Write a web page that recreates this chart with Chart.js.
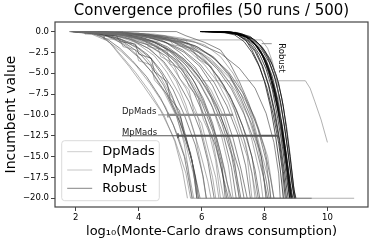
<!DOCTYPE html>
<html lang="en">
<head>
<meta charset="UTF-8" />
<title>Convergence profiles</title>
<script src="https://cdn.jsdelivr.net/npm/chart.js"></script>
<style>
  html, body { margin: 0; padding: 0; background: #fff; }
</style>
</head>
<body>
<canvas id="chart" width="374" height="244"></canvas>
<script>
// axis ticks
const xTicks = [2, 4, 6, 8, 10];
const yTicks = [0, -2.5, -5, -7.5, -10, -12.5, -15, -17.5, -20];

// each run: [log10 draws, incumbent value]
const dpmadsRuns = [
  [[1.8,0],[2.4,0],[2.8,-0.5],[3.1,-1.4],[3.35,-2.6],[3.7,-4.2],[4.15,-6.5],[4.7,-9.5],[5.15,-13],[5.5,-17],[5.65,-20],[10.85,-20]],
  [[2.0,0],[2.8,-0.2],[3.4,-0.8],[3.9,-1.9],[4.3,-3.4],[4.7,-5.5],[5.1,-8.2],[5.4,-11.5],[5.7,-15.5],[5.85,-20],[7.2,-20]],
  [[2.1,0],[3.1,-0.3],[3.8,-1.0],[4.4,-2.2],[4.8,-3.8],[5.2,-6.0],[5.5,-8.8],[5.8,-12.5],[6.0,-16.5],[6.15,-20]],
  [[1.9,0],[3.0,-0.1],[3.7,-0.6],[4.4,-1.5],[5.0,-3.0],[5.5,-5.2],[5.9,-8.0],[6.2,-11.5],[6.45,-15.5],[6.6,-20],[8.2,-20]],
  [[2.2,0],[3.5,-0.4],[4.6,-1.2],[5.4,-3.3],[6.0,-5.9],[9.3,-5.9],[9.45,-6.8],[9.6,-8.4],[9.8,-10.6],[10.0,-13.3]],
  [[2.3,0],[3.6,-0.5],[4.5,-1.3],[5.2,-2.6],[5.8,-4.5],[6.3,-7.0],[6.7,-10.2],[7.0,-14],[7.2,-20]],
  [[2.0,0],[3.3,-0.2],[4.2,-0.9],[4.9,-2.0],[5.4,-3.6],[5.9,-5.8],[6.3,-8.6],[6.6,-12],[6.85,-16],[7.0,-20],[9.0,-20]],
  [[2.4,0],[4.0,-0.4],[5.0,-1.0],[5.8,-2.1],[6.4,-3.8],[6.9,-6.2],[7.3,-9.2],[7.6,-13],[7.85,-17],[7.95,-20]],
  [[1.85,0],[2.5,-0.3],[3.0,-1.1],[3.45,-2.4],[3.9,-4.0],[4.35,-6.2],[4.85,-9.0],[5.25,-12.5],[5.55,-16],[5.7,-20]],
  [[2.1,0],[3.4,-0.4],[4.1,-1.2],[4.7,-2.6],[5.1,-4.4],[5.5,-6.8],[5.85,-9.8],[6.1,-13.5],[6.35,-17.5],[6.45,-20]],
  [[2.5,0],[4.3,-0.6],[5.3,-1.4],[6.0,-2.7],[6.6,-4.6],[7.1,-7.2],[7.5,-10.4],[7.8,-14],[8.0,-18],[8.05,-20]],
  [[2.0,0],[3.7,-0.3],[4.6,-0.9],[5.5,-1.1],[5.9,-2.5],[6.3,-4.2],[6.7,-6.6],[7.05,-9.5],[7.35,-13],[7.6,-17],[7.7,-20]],
  [[2.2,0],[3.0,-0.6],[3.6,-1.6],[4.0,-3.0],[4.4,-4.8],[4.8,-7.2],[5.2,-10.2],[5.5,-13.6],[5.75,-17.2],[5.9,-20]],
  [[2.3,0],[4.0,-0.2],[4.8,-0.7],[5.6,-1.6],[6.3,-3.3],[6.9,-5.6],[7.4,-8.3],[7.8,-11.5],[8.1,-15],[8.3,-20]],
  [[1.95,0],[3.2,-0.4],[3.9,-1.3],[4.5,-2.9],[4.9,-4.9],[5.3,-7.6],[5.65,-10.8],[5.95,-14.4],[6.2,-18],[6.3,-20]],
  [[2.6,0],[4.6,-0.7],[5.6,-1.0],[7.9,-1.0],[8.1,-2.0],[8.25,-3.6],[8.4,-6],[8.5,-10],[8.55,-14],[8.6,-20]],
  [[1.9,0],[2.3,0],[2.3,-0.3],[2.9,-0.3],[2.9,-0.9],[3.4,-0.9],[3.5,-1.8],[3.9,-2.2],[4.0,-3.5],[4.4,-4.0],[4.5,-5.8],[4.9,-7.5],[5.2,-10],[5.45,-13.5],[5.6,-17],[5.75,-20]],
  [[2.0,0],[3.5,0],[3.6,-0.6],[4.2,-0.8],[4.3,-1.8],[4.9,-2.3],[5.0,-3.9],[5.4,-4.5],[5.6,-6.6],[5.9,-8.0],[6.05,-10.5],[6.35,-13],[6.5,-16],[6.7,-20]],
  [[2.2,0],[3.8,-0.2],[4.9,-0.6],[5.1,-1.6],[5.7,-2.0],[5.9,-3.3],[6.3,-4.2],[6.5,-6.0],[6.9,-7.6],[7.1,-10],[7.4,-13.5],[7.6,-17],[7.75,-20]],
  [[2.0,0],[2.9,-0.2],[3.6,-0.5],[4.0,-1.3],[4.6,-1.8],[4.7,-3.0],[5.1,-3.8],[5.3,-5.6],[5.6,-7.0],[5.75,-9.5],[6.0,-11],[6.2,-14],[6.45,-17.5],[6.55,-20]],
  [[2.4,0],[4.5,-0.3],[5.4,-0.8],[6.1,-1.6],[6.6,-3.0],[7.0,-5.0],[7.35,-7.6],[7.65,-10.8],[7.9,-14.5],[8.15,-18],[8.2,-20]],
  [[1.85,0],[2.5,-0.1],[2.9,-0.7],[3.2,-1.8],[3.5,-3.1],[3.9,-4.9],[4.35,-7.2],[4.8,-10.0],[5.15,-13.2],[5.4,-16.8],[5.55,-20]],
  [[2.1,0],[3.2,-0.1],[3.9,-0.7],[4.6,-1.7],[5.1,-3.1],[5.5,-4.9],[5.85,-7.1],[6.2,-9.8],[6.5,-13],[6.75,-16.8],[6.9,-20],[8.9,-20]],
  [[2.3,0],[4.2,-0.4],[5.1,-1.2],[5.65,-2.5],[6.1,-4.0],[6.5,-6.0],[6.85,-8.5],[7.15,-11.6],[7.45,-15],[7.6,-20]]
];

const mpmadsRuns = [
  [[1.9,0],[2.7,-0.2],[3.2,-0.8],[3.6,-1.8],[4.0,-3.1],[4.45,-5.0],[4.9,-7.6],[5.3,-10.8],[5.65,-14.6],[5.85,-18.5],[5.9,-20]],
  [[2.0,0],[3.0,-0.3],[3.7,-0.9],[4.3,-2.0],[4.8,-3.6],[5.2,-5.7],[5.6,-8.4],[5.95,-11.8],[6.2,-15.6],[6.4,-20]],
  [[2.1,0],[3.3,-0.3],[4.1,-1.0],[4.7,-2.1],[5.2,-3.7],[5.6,-5.8],[6.0,-8.5],[6.35,-11.9],[6.6,-15.8],[6.8,-20]],
  [[2.2,0],[3.6,-0.4],[4.4,-1.1],[5.0,-2.3],[5.5,-4.0],[5.95,-6.3],[6.35,-9.1],[6.7,-12.5],[6.95,-16.3],[7.1,-20]],
  [[2.0,0],[3.8,-0.3],[4.7,-1.0],[5.4,-2.2],[5.95,-3.9],[6.4,-6.1],[6.8,-8.9],[7.15,-12.3],[7.4,-16.1],[7.55,-20]],
  [[2.3,0],[4.1,-0.4],[5.0,-1.1],[5.7,-2.4],[6.25,-4.1],[6.7,-6.4],[7.1,-9.3],[7.45,-12.8],[7.7,-16.6],[7.85,-20]],
  [[2.1,0],[3.1,-0.5],[3.8,-1.4],[4.3,-2.8],[4.7,-4.6],[5.1,-7.0],[5.45,-10.0],[5.8,-13.6],[6.05,-17.4],[6.15,-20]],
  [[2.4,0],[4.4,-0.5],[5.3,-1.3],[6.0,-2.7],[6.5,-4.5],[6.95,-6.9],[7.35,-9.9],[7.7,-13.4],[7.95,-17.2],[8.1,-20]],
  [[1.9,0],[2.9,-0.4],[3.5,-1.2],[4.0,-2.5],[4.4,-4.2],[4.8,-6.5],[5.15,-9.3],[5.5,-12.7],[5.75,-16.4],[5.95,-20]],
  [[2.2,0],[3.5,-0.6],[4.3,-1.6],[4.9,-3.0],[5.35,-4.9],[5.75,-7.3],[6.1,-10.3],[6.45,-13.8],[6.7,-17.6],[6.85,-20]],
  [[2.5,0],[4.6,-0.6],[5.6,-1.5],[6.3,-2.9],[6.85,-4.8],[7.3,-7.3],[7.7,-10.4],[8.0,-14],[8.2,-17.8],[8.3,-20]],
  [[2.0,0],[3.4,-0.2],[4.2,-0.8],[4.9,-1.8],[5.45,-3.3],[5.9,-5.3],[6.3,-7.9],[6.65,-11.1],[6.95,-14.8],[7.2,-20]],
  [[2.3,0],[3.9,-0.3],[4.9,-0.9],[5.6,-2.0],[6.1,-3.5],[6.55,-5.5],[6.95,-8.1],[7.3,-11.3],[7.6,-15],[7.8,-20],[9.5,-20]],
  [[1.8,0],[2.5,-0.2],[3.0,-0.9],[3.4,-2.0],[3.8,-3.5],[4.25,-5.4],[4.7,-8.0],[5.1,-11.2],[5.45,-15],[5.7,-20]],
  [[2.1,0],[3.7,-0.5],[4.5,-1.3],[5.15,-2.6],[5.7,-4.4],[6.15,-6.7],[6.55,-9.6],[6.9,-13],[7.2,-16.8],[7.35,-20]],
  [[2.6,0],[4.8,-0.5],[5.8,-1.3],[6.6,-2.6],[7.2,-4.4],[7.7,-6.8],[8.05,-9.8],[8.3,-13.3],[8.45,-17],[8.5,-20]],
  [[2.4,0],[5.2,0],[5.5,-0.5],[6.1,-1.3],[6.6,-2.2],[6.9,-3.8],[7.2,-6.0],[7.5,-8.6],[7.8,-11.8],[8.05,-15.5],[8.2,-20]],
  [[2.0,0],[2.6,0],[2.7,-0.4],[3.3,-0.5],[3.4,-1.2],[3.9,-1.5],[4.0,-2.7],[4.4,-3.2],[4.5,-4.8],[4.9,-6.0],[5.0,-8.0],[5.3,-9.5],[5.45,-12.5],[5.7,-15.5],[5.85,-20]],
  [[2.1,0],[3.6,-0.1],[4.3,-0.6],[4.9,-1.4],[5.35,-2.6],[5.8,-4.3],[6.15,-6.4],[6.5,-9.0],[6.8,-12.2],[7.05,-16],[7.25,-20]],
  [[2.2,0],[3.3,-0.2],[4.0,-0.6],[4.6,-1.4],[5.05,-2.6],[5.45,-4.2],[5.8,-6.2],[6.1,-8.8],[6.4,-12],[6.65,-16],[6.75,-20]],
  [[2.3,0],[4.3,-0.3],[5.2,-0.9],[5.9,-1.9],[6.45,-3.4],[6.9,-5.4],[7.25,-8.0],[7.6,-11.2],[7.9,-15],[8.05,-20]],
  [[1.9,0],[2.8,-0.3],[3.4,-0.9],[3.95,-1.9],[4.4,-3.3],[4.75,-5.2],[5.05,-7.6],[5.35,-10.5],[5.6,-14],[5.8,-17.5],[5.85,-20]],
  [[2.0,0],[3.9,-0.4],[4.8,-1.2],[5.45,-2.5],[5.95,-4.2],[6.35,-6.5],[6.7,-9.4],[7.0,-12.8],[7.25,-16.5],[7.45,-20]],
  [[2.4,0],[3.5,-0.3],[4.3,-1.2],[4.8,-2.3],[5.3,-3.7],[5.7,-5.6],[6.05,-8.0],[6.35,-11],[6.6,-14.5],[6.8,-18],[6.95,-20]],
  [[2.2,0],[4.0,-0.2],[5.0,-0.8],[5.8,-1.7],[6.4,-3.1],[6.85,-5.0],[7.25,-7.5],[7.6,-10.6],[7.85,-14.2],[8.05,-17.8],[8.15,-20]]
];

const robustRuns = [
  [[5.95,0],[6.7,0],[7.1,-0.3],[7.4,-1.0],[7.6,-2.2],[7.8,-3.8],[8.0,-6.0],[8.2,-9.2],[8.35,-12.5],[8.5,-16.5],[8.6,-20]],
  [[5.95,0],[6.8,0],[7.2,-0.4],[7.5,-1.2],[7.75,-2.5],[7.95,-4.2],[8.15,-6.6],[8.35,-10],[8.5,-13.4],[8.65,-17.2],[8.75,-20]],
  [[6.1,0],[6.9,-0.1],[7.3,-0.5],[7.6,-1.4],[7.85,-2.8],[8.05,-4.5],[8.25,-7.0],[8.42,-10.4],[8.57,-13.8],[8.7,-17.5],[8.8,-20]],
  [[6.2,0],[7.0,-0.1],[7.4,-0.6],[7.7,-1.6],[7.95,-3.0],[8.15,-4.9],[8.32,-7.5],[8.5,-10.9],[8.64,-14.2],[8.76,-17.8],[8.85,-20]],
  [[6.0,0],[6.85,0],[7.25,-0.3],[7.55,-0.9],[7.8,-1.9],[8.0,-3.5],[8.2,-5.8],[8.4,-9],[8.55,-12.5],[8.7,-16.5],[8.8,-20]],
  [[6.3,0],[7.1,-0.2],[7.5,-0.8],[7.8,-1.9],[8.05,-3.4],[8.25,-5.4],[8.42,-8.1],[8.57,-11.4],[8.7,-14.8],[8.82,-18.2],[8.9,-20]],
  [[6.0,0],[6.9,-0.1],[7.35,-0.5],[7.65,-1.3],[7.9,-2.6],[8.1,-4.4],[8.3,-6.9],[8.48,-10.2],[8.62,-13.6],[8.75,-17.3],[8.85,-20]],
  [[6.4,0],[7.2,-0.2],[7.6,-0.9],[7.9,-2.1],[8.15,-3.7],[8.35,-5.8],[8.52,-8.6],[8.66,-12],[8.78,-15.5],[8.9,-18.8],[8.95,-20]],
  [[6.0,0],[6.75,0],[7.15,-0.4],[7.45,-1.2],[7.7,-2.4],[7.92,-4.1],[8.12,-6.4],[8.3,-9.5],[8.46,-12.9],[8.6,-16.8],[8.7,-20]],
  [[6.1,0],[7.0,-0.2],[7.45,-0.7],[7.75,-1.7],[8.0,-3.2],[8.2,-5.2],[8.38,-7.9],[8.55,-11.2],[8.68,-14.6],[8.8,-18],[8.88,-20]],
  [[6.2,0],[7.1,-0.1],[7.55,-0.6],[7.85,-1.6],[8.1,-3.1],[8.3,-5.1],[8.47,-7.8],[8.62,-11.1],[8.75,-14.5],[8.86,-17.9],[8.95,-20]],
  [[5.95,0],[6.6,0],[7.05,-0.4],[7.35,-1.2],[7.6,-2.5],[7.85,-4.3],[8.08,-6.8],[8.28,-10],[8.45,-13.4],[8.58,-17],[8.66,-20]],
  [[6.5,0],[7.3,-0.3],[7.7,-1.0],[8.0,-2.3],[8.25,-4.0],[8.45,-6.2],[8.6,-9.0],[8.72,-12.4],[8.84,-15.9],[8.94,-19],[9.0,-20]],
  [[6.1,0],[6.95,-0.1],[7.4,-0.6],[7.7,-1.5],[7.95,-2.9],[8.16,-4.8],[8.36,-7.4],[8.52,-10.7],[8.66,-14],[8.78,-17.6],[8.86,-20]],
  [[6.0,0],[6.9,0],[7.3,-0.4],[7.62,-1.1],[7.88,-2.3],[8.1,-4.0],[8.28,-6.4],[8.45,-9.6],[8.6,-13],[8.73,-16.9],[8.82,-20]],
  [[6.3,0],[7.15,-0.2],[7.6,-0.8],[7.92,-1.8],[8.18,-3.3],[8.38,-5.3],[8.55,-8.0],[8.7,-11.4],[8.82,-15],[8.92,-18.5],[8.98,-20]]
];

const seriesNames = ["DpMads", "MpMads", "Robust"];

// annotation arrows: text anchor, thin start, marker, arrow end (data coords)
const notes = [
  { text: "DpMads", x: 3.47, y: -10, from: 4.62, mark: 4.93, to: 7.0, color: "#8a8a8a" },
  { text: "MpMads", x: 3.47, y: -12.5, from: 3.47, mark: 5.25, to: 8.43, color: "#555555" }
];

const FONT = "'DejaVu Sans', sans-serif";

function makeSets(runs, name, color) {
  return runs.map(run => ({
    label: name,
    data: run.map(p => ({ x: p[0], y: p[1] })),
    borderColor: color,
    borderWidth: 0.9,
    pointRadius: 0,
    showLine: true,
    fill: false,
    tension: 0
  }));
}

const lineColors = ["rgba(110,110,110,0.6)", "rgba(45,45,45,0.62)", "rgba(0,0,0,0.75)"];
const legendColors = ["#c8c8c8", "#c0c0c0", "#777777"];

const decor = {
  id: "decor",
  afterDraw(chart) {
    const ctx = chart.ctx;
    const a = chart.chartArea;
    const xs = chart.scales.x, ys = chart.scales.y;
    ctx.save();

    // title
    ctx.fillStyle = "#000";
    ctx.font = "15px " + FONT;
    ctx.textAlign = "center";
    ctx.textBaseline = "middle";
    ctx.fillText("Convergence profiles (50 runs / 500)", (a.left + a.right) / 2, 11);

    // frame
    ctx.strokeStyle = "#444";
    ctx.lineWidth = 1.2;
    ctx.strokeRect(a.left, a.top, a.right - a.left, a.bottom - a.top);

    // annotations
    notes.forEach(n => {
      const ty = ys.getPixelForValue(n.y);
      ctx.font = "8.5px " + FONT;
      ctx.textAlign = "left";
      ctx.textBaseline = "alphabetic";
      ctx.fillStyle = "#222";
      ctx.fillText(n.text, xs.getPixelForValue(n.x), ty - 1);
      ctx.strokeStyle = n.color;
      ctx.lineWidth = 1;
      ctx.beginPath();
      ctx.moveTo(xs.getPixelForValue(n.from), ty);
      ctx.lineTo(xs.getPixelForValue(n.mark), ty);
      ctx.stroke();
      ctx.lineWidth = 2.2;
      ctx.beginPath();
      ctx.moveTo(xs.getPixelForValue(n.mark), ty);
      ctx.lineTo(xs.getPixelForValue(n.to), ty);
      ctx.stroke();
      ctx.lineWidth = 1.5;
      ctx.beginPath();
      ctx.moveTo(xs.getPixelForValue(n.mark), ty - 2.5);
      ctx.lineTo(xs.getPixelForValue(n.mark), ty + 2.5);
      ctx.stroke();
    });

    // Robust label with leader
    const ly = ys.getPixelForValue(-1.45);
    ctx.strokeStyle = "#777";
    ctx.lineWidth = 0.8;
    ctx.beginPath();
    ctx.moveTo(xs.getPixelForValue(7.91), ly);
    ctx.lineTo(xs.getPixelForValue(8.23), ly);
    ctx.stroke();
    ctx.save();
    ctx.translate(xs.getPixelForValue(8.52), ys.getPixelForValue(-3.16));
    ctx.rotate(Math.PI / 2);
    ctx.font = "8.5px " + FONT;
    ctx.textAlign = "center";
    ctx.textBaseline = "middle";
    ctx.fillStyle = "#111";
    ctx.fillText("Robust", 0, 0);
    ctx.restore();

    // legend
    const bx = a.left + 6.7, by = a.bottom - 66.3, bw = 97.6, bh = 60;
    ctx.fillStyle = "rgba(255,255,255,0.85)";
    ctx.strokeStyle = "#d0d0d0";
    ctx.lineWidth = 0.8;
    ctx.beginPath();
    ctx.roundRect(bx, by, bw, bh, 3);
    ctx.fill();
    ctx.stroke();
    ctx.font = "13px " + FONT;
    ctx.textAlign = "left";
    ctx.textBaseline = "middle";
    seriesNames.forEach((name, i) => {
      const ry = by + 11 + i * 18.3;
      ctx.strokeStyle = legendColors[i];
      ctx.lineWidth = 0.9;
      ctx.beginPath();
      ctx.moveTo(bx + 5.5, ry);
      ctx.lineTo(bx + 30.5, ry);
      ctx.stroke();
      ctx.fillStyle = "#000";
      ctx.fillText(name, bx + 40.5, ry);
    });

    ctx.restore();
  }
};

new Chart(document.getElementById("chart"), {
  type: "scatter",
  data: {
    datasets: [
      ...makeSets(dpmadsRuns, seriesNames[0], lineColors[0]),
      ...makeSets(mpmadsRuns, seriesNames[1], lineColors[1]),
      ...makeSets(robustRuns, seriesNames[2], lineColors[2])
    ]
  },
  options: {
    responsive: false,
    animation: false,
    layout: { padding: { top: 22, right: 6, left: 0, bottom: 0 } },
    plugins: {
      legend: { display: false },
      title: { display: false },
      tooltip: { enabled: false }
    },
    scales: {
      x: {
        type: "linear",
        min: 1.34,
        max: 11.29,
        afterFit: s => { s.height = 37; },
        afterBuildTicks: s => { s.ticks = xTicks.map(v => ({ value: v })); },
        grid: { display: true, drawOnChartArea: false, drawTicks: true, tickLength: 4, color: "#444" },
        border: { display: false },
        ticks: {
          autoSkip: false, maxRotation: 0, padding: 2, color: "#000",
          font: { family: FONT, size: 8.5 },
          callback: v => String(v)
        },
        title: {
          display: true,
          text: "log\u2081\u2080(Monte-Carlo draws consumption)",
          color: "#000",
          font: { family: FONT, size: 13 },
          padding: { top: 0, bottom: 5 }
        }
      },
      y: {
        type: "linear",
        min: -21.05,
        max: 1.15,
        afterFit: s => { s.width = 55; },
        afterBuildTicks: s => { s.ticks = yTicks.map(v => ({ value: v })); },
        grid: { display: true, drawOnChartArea: false, drawTicks: true, tickLength: 4, color: "#444" },
        border: { display: false },
        ticks: {
          autoSkip: false, padding: 2, color: "#000",
          font: { family: FONT, size: 8.5 },
          callback: v => (v < 0 ? "\u2212" : "") + Math.abs(v).toFixed(1)
        },
        title: {
          display: true,
          text: "Incumbent value",
          color: "#000",
          font: { family: FONT, size: 14 },
          padding: { top: 3, bottom: 0 }
        }
      }
    }
  },
  plugins: [decor]
});
</script>
</body>
</html>
